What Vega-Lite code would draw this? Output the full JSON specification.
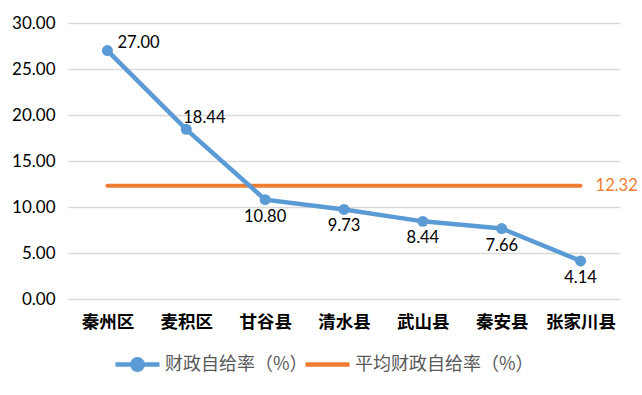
{
  "$schema": "https://vega.github.io/schema/vega-lite/v6.json",
  "width": 552,
  "height": 276,
  "autosize": "none",
  "padding": {"left": 68, "top": 23, "right": 22, "bottom": 96},
  "background": "white",
  "config": {"view": {"stroke": null}, "font": "Lato"},
  "data": {"values": [
    {"county": "秦州区", "rate": 27.00, "avg": 12.32},
    {"county": "麦积区", "rate": 18.44, "avg": 12.32},
    {"county": "甘谷县", "rate": 10.80, "avg": 12.32},
    {"county": "清水县", "rate": 9.73, "avg": 12.32},
    {"county": "武山县", "rate": 8.44, "avg": 12.32},
    {"county": "秦安县", "rate": 7.66, "avg": 12.32},
    {"county": "张家川县", "rate": 4.14, "avg": 12.32}
  ]},
  "encoding": {
    "x": {"field": "county", "type": "nominal", "sort": null, "title": null,
      "scale": {"paddingInner": 0, "paddingOuter": 0},
      "axis": {"labelAngle": 0, "domain": false, "ticks": false, "grid": false, "labelPadding": 14,
        "labelFont": "Noto Sans CJK SC", "labelFontWeight": "bold", "labelFontSize": 17.5, "labelColor": "#000000"}}
  },
  "layer": [
    {
      "mark": {"type": "line", "strokeWidth": 4, "strokeCap": "round"},
      "encoding": {
        "y": {"field": "avg", "type": "quantitative", "title": null,
          "scale": {"domain": [0, 30]},
          "axis": {"values": [0, 5, 10, 15, 20, 25, 30], "format": ".2f", "domain": false, "ticks": false,
            "gridColor": "#D9D9D9", "gridWidth": 1.3, "labelPadding": 13, "labelFontSize": 17, "labelColor": "#000000"}},
        "color": {"datum": "平均财政自给率（%）", "type": "nominal",
          "scale": {"domain": ["财政自给率（%）", "平均财政自给率（%）"], "range": ["#5B9BD5", "#ED7D31"]},
          "legend": {"orient": "none", "legendX": 45, "legendY": 317, "direction": "horizontal", "title": null,
            "labelFont": "Noto Sans CJK SC", "labelFontSize": 18, "labelColor": "#595959", "labelLimit": 400,
            "gridAlign": "none",
            "symbolSize": 1936, "symbolStrokeWidth": 4.5, "labelOffset": 3, "columnPadding": -12,
            "encode": {"symbols": {"update": {
              "shape": {"signal": "datum.value == '财政自给率（%）' ? 'M-1,0H1M-0.24,0A0.24,0.24,0,1,1,0.24,0A0.24,0.24,0,1,1,-0.24,0' : 'stroke'"},
              "fill": {"signal": "datum.value == '财政自给率（%）' ? '#5B9BD5' : 'transparent'"}
            }}}}}
      }
    },
    {
      "mark": {"type": "line", "strokeWidth": 4.5, "point": {"filled": true, "size": 120}},
      "encoding": {
        "y": {"field": "rate", "type": "quantitative"},
        "color": {"datum": "财政自给率（%）", "type": "nominal"}
      }
    },
    {
      "transform": [{"filter": "datum.county == '秦州区'"}],
      "mark": {"type": "text", "align": "left", "baseline": "alphabetic", "dx": 10, "dy": -3, "fontSize": 16.5, "color": "#000000"},
      "encoding": {"y": {"field": "rate", "type": "quantitative"}, "text": {"field": "rate", "type": "quantitative", "format": ".2f"}}
    },
    {
      "transform": [{"filter": "datum.county == '麦积区'"}],
      "mark": {"type": "text", "align": "left", "baseline": "alphabetic", "dx": -3, "dy": -6, "fontSize": 16.5, "color": "#000000"},
      "encoding": {"y": {"field": "rate", "type": "quantitative"}, "text": {"field": "rate", "type": "quantitative", "format": ".2f"}}
    },
    {
      "transform": [{"filter": "datum.county != '秦州区' && datum.county != '麦积区'"}],
      "mark": {"type": "text", "align": "center", "baseline": "alphabetic", "dy": 22, "fontSize": 16.5, "color": "#000000"},
      "encoding": {"y": {"field": "rate", "type": "quantitative"}, "text": {"field": "rate", "type": "quantitative", "format": ".2f"}}
    },
    {
      "transform": [{"filter": "datum.county == '张家川县'"}],
      "mark": {"type": "text", "align": "left", "baseline": "middle", "dx": 15, "fontSize": 16.5, "color": "#ED7D31"},
      "encoding": {"y": {"field": "avg", "type": "quantitative"}, "text": {"field": "avg", "type": "quantitative", "format": ".2f"}}
    }
  ]
}
